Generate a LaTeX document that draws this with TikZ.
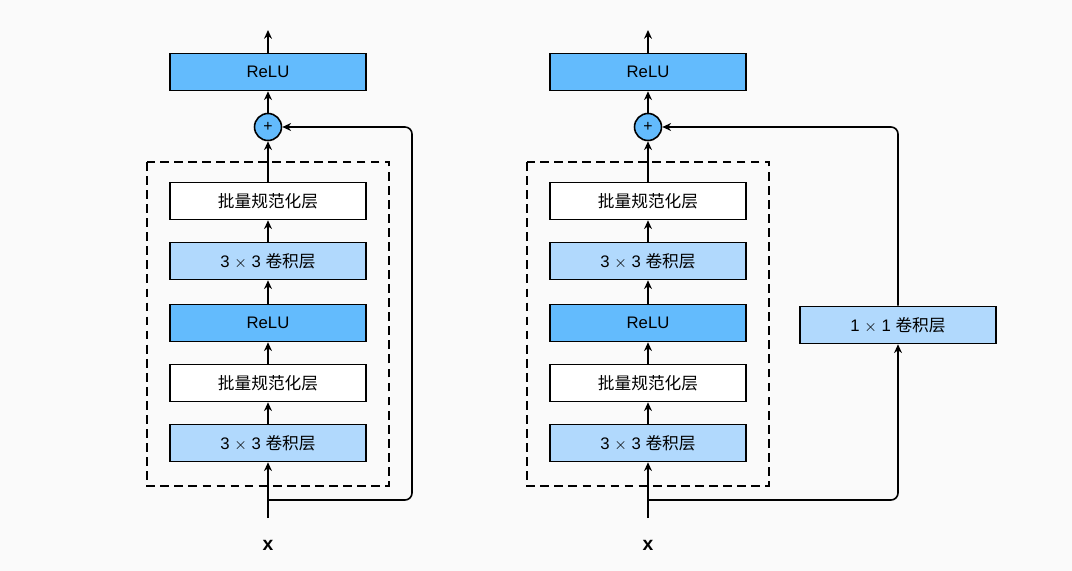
\documentclass[tikz,border=0pt]{standalone}
\usepackage{fontspec}
\setmainfont{Liberation Sans}
\newfontfamily\cjk{Noto Sans CJK SC}
\usetikzlibrary{arrows.meta,positioning}
\definecolor{reludark}{HTML}{63BBFD}
\definecolor{convlight}{HTML}{B1D9FD}
\tikzset{
  layer/.style={draw, line width=0.9pt, minimum width=3.92cm, minimum height=0.74cm,
    inner sep=0pt, font=\fontsize{9.5}{11}\selectfont},
  addop/.style={draw, circle, line width=0.9pt, fill=reludark, minimum size=0.54cm,
    inner sep=0pt, font=\fontsize{9}{10}\selectfont},
  flow/.style={line width=0.9pt, -{Stealth[length=5pt,width=4.5pt]}},
  wire/.style={line width=0.9pt, rounded corners=4pt}
}
\begin{document}
\begin{tikzpicture}[x=0.02cm, y=-0.02cm]
  \fill[white!98!black] (0,0) rectangle (1072,571);
  \foreach \cx/\k in {268/a, 648/b} {
    % dashed residual body
    \draw[dashed, line width=0.9pt, dash pattern=on 5pt off 3pt] (\cx-121,162) rectangle (\cx+121,486);
    \node[layer, fill=reludark] (relu\k) at (\cx,72) {ReLU};
    \node[addop] (add\k) at (\cx,127) {+};
    \node[layer, fill=white] (bnt\k) at (\cx,201) {\cjk 批量规范化层};
    \node[layer, fill=convlight] (cvt\k) at (\cx,261) {3 $\times$ 3 {\cjk 卷积层}};
    \node[layer, fill=reludark] (rlm\k) at (\cx,323) {ReLU};
    \node[layer, fill=white] (bnb\k) at (\cx,383) {\cjk 批量规范化层};
    \node[layer, fill=convlight] (cvb\k) at (\cx,443) {3 $\times$ 3 {\cjk 卷积层}};
    \node[font=\bfseries\fontsize{11}{12}\selectfont\rmfamily] (x\k) at (\cx,545) {$\mathbf{x}$};
    \coordinate (in\k) at (\cx,518);
    \coordinate (out\k) at (\cx,30);
    \coordinate (sp\k) at (\cx,500);
    \draw[flow] (in\k) -- (cvb\k);
    \draw[flow] (cvb\k) -- (bnb\k);
    \draw[flow] (bnb\k) -- (rlm\k);
    \draw[flow] (rlm\k) -- (cvt\k);
    \draw[flow] (cvt\k) -- (bnt\k);
    \draw[flow] (bnt\k) -- (add\k);
    \draw[flow] (add\k) -- (relu\k);
    \draw[flow] (relu\k) -- (out\k);
  }
  % shortcut paths
  \draw[wire, flow] (spa) -| (412,127) -- (adda);
  \node[layer, fill=convlight] (proj) at (898,325) {1 $\times$ 1 {\cjk 卷积层}};
  \draw[wire, flow] (spb) -| (proj);
  \draw[wire, flow] (proj) |- (addb);
\end{tikzpicture}
\end{document}
